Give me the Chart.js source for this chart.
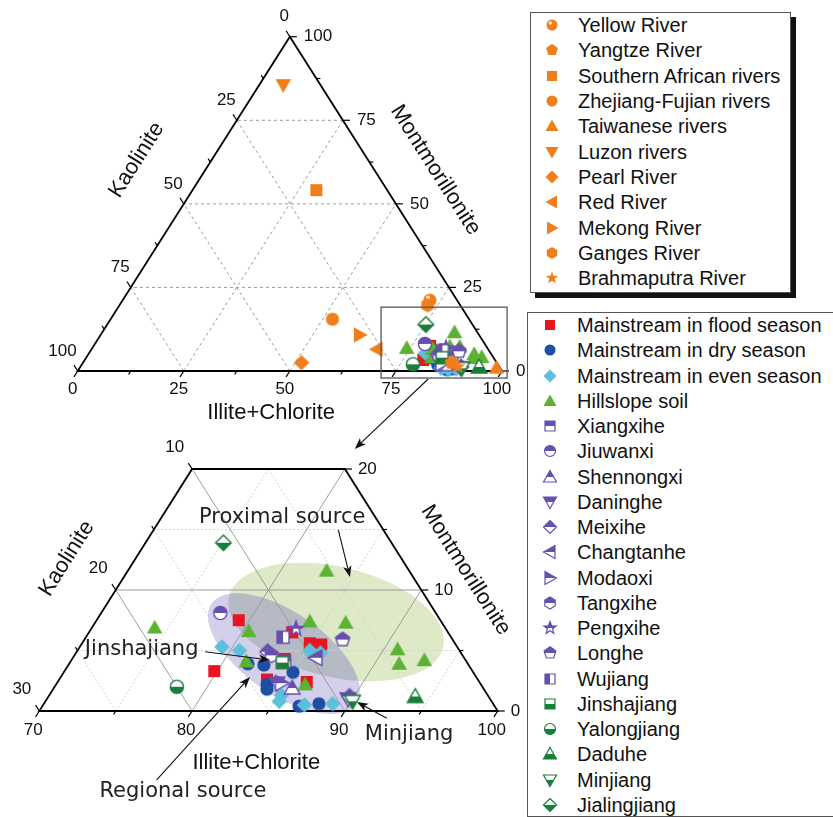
<!DOCTYPE html>
<html>
<head>
<meta charset="utf-8">
<title>Clay minerals ternary diagram</title>
<script src="https://cdn.jsdelivr.net/npm/chart.js@4.4.1/dist/chart.umd.min.js"></script>
<style>
  html, body { margin: 0; padding: 0; background: #fff; }
  body { position: relative; width: 833px; height: 817px; overflow: hidden; font-family: "Liberation Sans", Arial, sans-serif; }
  canvas.tern { position: absolute; left: 0; }
  #topChart { top: 0; z-index: 2; }
  #bottomChart { top: 430px; z-index: 1; }
  .legend { position: absolute; background: #fff; border: 1.5px solid #555; box-sizing: border-box; }
  .item { position: absolute; height: 24px; line-height: 24px; font-size: 20px; color: #111; white-space: nowrap; }
  .mark { position: absolute; }
</style>
</head>
<body>
<canvas id="bottomChart" class="tern" width="530" height="387"></canvas>
<canvas id="topChart" class="tern" width="530" height="460"></canvas>
<div id="legendTop" class="legend" style="left:530px;top:12px;width:261px;height:281px;box-shadow:5px 5px 0 #111;"></div>
<div id="legendBottom" class="legend" style="left:527px;top:312px;width:330px;height:505px;"></div>

<script>
// composition of every sample: [Illite+Chlorite, Montmorillonite, Kaolinite] in %

// big rivers (upper diagram only)
const yellowRiver = [[72.4, 21.2, 6.4]];
const yangtzeRiver = [[86.9, 2.5, 10.6]];
const southernAfrican = [[29.2, 54.1, 16.7]];
const zhejiangFujian = [[52.3, 15.5, 32.2]];
const taiwanese = [[98.2, 1.0, 0.8]];
const luzon = [[5.7, 85.5, 8.8]];
const pearlRiver = [[51.5, 2.5, 46.0]];
const redRiver = [[67.2, 6.5, 26.3]];
const mekongRiver = [[61.1, 10.8, 28.1]];
const gangesRiver = [[72.6, 19.7, 7.7]];
const brahmaputraRiver = [[89.0, 1.3, 9.7]];

// Yangtze basin samples (both diagrams)
const floodSeason = [[79.8, 3.3, 16.9], [79.3, 7.5, 13.2], [83.3, 6.5, 10.2], [84.9, 5.6, 9.5],
                     [85.7, 5.5, 8.8], [83.9, 4.3, 11.8], [86.3, 2.4, 11.3], [83.6, 2.6, 13.8]];
const drySeason = [[81.7, 3.9, 14.4], [82.8, 3.8, 13.4], [85.0, 3.2, 11.8], [83.8, 2.2, 14.0],
                   [84.0, 1.8, 14.2], [86.8, 0.4, 12.8], [88.0, 0.6, 11.4]];
const evenSeason = [[79.3, 5.3, 15.4], [80.6, 5.0, 14.4], [85.2, 5.0, 9.8], [86.0, 4.8, 9.2],
                    [85.2, 1.3, 13.5], [85.3, 0.8, 13.9], [87.1, 0.5, 12.4], [88.9, 0.6, 10.5]];
const hillslopeSoil = [[83.0, 11.6, 5.4], [74.1, 6.9, 19.0], [80.4, 6.6, 13.0], [84.0, 7.4, 8.6],
                       [86.4, 7.3, 6.3], [90.9, 5.1, 4.0], [91.6, 3.9, 4.5], [93.1, 4.2, 2.7],
                       [81.5, 4.1, 14.4], [86.3, 2.2, 11.5]];
const xiangxihe = [[84.0, 4.1, 11.9]];
const jiuwanxi = [[77.8, 8.1, 14.1]];
const shennongxi = [[85.6, 1.9, 12.5]];
const daninghe = [[84.4, 2.3, 13.3], [89.7, 1.0, 9.3]];
const meixihe = [[82.5, 4.9, 12.6], [89.7, 1.2, 9.1]];
const changtanhe = [[85.9, 4.4, 9.7]];
const modaoxi = [[84.7, 2.3, 13.0]];
const tangxihe = [[82.9, 4.6, 12.5]];
const pengxihe = [[83.4, 6.8, 9.8]];
const longhe = [[86.9, 5.9, 7.2]];
const wujiang = [[82.9, 6.1, 11.0]];
const jinshajiang = [[83.9, 4.0, 12.1]];
const yalongjiang = [[78.0, 2.0, 20.0]];
const daduhe = [[94.0, 1.2, 4.8]];
const minjiang = [[90.1, 0.8, 9.1]];
const jialingjiang = [[75.1, 13.9, 11.0]];

const ORANGE = '#f07f1b', RED = '#e8151e', NAVY = '#1d4ea2', SKY = '#5cbfdc';
const LEAF = '#5bb233', VIOLET = '#6650ae', FOREST = '#1a7e3b';

const regionalSeries = [
    { name: 'Yellow River', data: yellowRiver, shape: 'sphere', color: ORANGE, fill: 'full' },
    { name: 'Yangtze River', data: yangtzeRiver, shape: 'pentagon', color: ORANGE, fill: 'full' },
    { name: 'Southern African rivers', data: southernAfrican, shape: 'square', color: ORANGE, fill: 'full' },
    { name: 'Zhejiang-Fujian rivers', data: zhejiangFujian, shape: 'circle', color: ORANGE, fill: 'full' },
    { name: 'Taiwanese rivers', data: taiwanese, shape: 'triangle', color: ORANGE, fill: 'full' },
    { name: 'Luzon rivers', data: luzon, shape: 'triangleDown', color: ORANGE, fill: 'full' },
    { name: 'Pearl River', data: pearlRiver, shape: 'diamond', color: ORANGE, fill: 'full' },
    { name: 'Red River', data: redRiver, shape: 'triangleLeft', color: ORANGE, fill: 'full' },
    { name: 'Mekong River', data: mekongRiver, shape: 'triangleRight', color: ORANGE, fill: 'full' },
    { name: 'Ganges River', data: gangesRiver, shape: 'hexagon', color: ORANGE, fill: 'full' },
    { name: 'Brahmaputra River', data: brahmaputraRiver, shape: 'star', color: ORANGE, fill: 'full' }
];

const basinSeries = [
    { name: 'Mainstream in flood season', data: floodSeason, shape: 'square', color: RED, fill: 'full' },
    { name: 'Mainstream in dry season', data: drySeason, shape: 'circle', color: NAVY, fill: 'full' },
    { name: 'Mainstream in even season', data: evenSeason, shape: 'diamond', color: SKY, fill: 'full' },
    { name: 'Hillslope soil', data: hillslopeSoil, shape: 'triangle', color: LEAF, fill: 'full' },
    { name: 'Xiangxihe', data: xiangxihe, shape: 'square', color: VIOLET, fill: 'top' },
    { name: 'Jiuwanxi', data: jiuwanxi, shape: 'circle', color: VIOLET, fill: 'top' },
    { name: 'Shennongxi', data: shennongxi, shape: 'triangle', color: VIOLET, fill: 'top' },
    { name: 'Daninghe', data: daninghe, shape: 'triangleDown', color: VIOLET, fill: 'top' },
    { name: 'Meixihe', data: meixihe, shape: 'diamond', color: VIOLET, fill: 'top' },
    { name: 'Changtanhe', data: changtanhe, shape: 'triangleLeft', color: VIOLET, fill: 'top' },
    { name: 'Modaoxi', data: modaoxi, shape: 'triangleRight', color: VIOLET, fill: 'top' },
    { name: 'Tangxihe', data: tangxihe, shape: 'hexagon', color: VIOLET, fill: 'top' },
    { name: 'Pengxihe', data: pengxihe, shape: 'star', color: VIOLET, fill: 'top' },
    { name: 'Longhe', data: longhe, shape: 'pentagon', color: VIOLET, fill: 'top' },
    { name: 'Wujiang', data: wujiang, shape: 'square', color: VIOLET, fill: 'left' },
    { name: 'Jinshajiang', data: jinshajiang, shape: 'square', color: FOREST, fill: 'bottom' },
    { name: 'Yalongjiang', data: yalongjiang, shape: 'circle', color: FOREST, fill: 'bottom' },
    { name: 'Daduhe', data: daduhe, shape: 'triangle', color: FOREST, fill: 'bottom' },
    { name: 'Minjiang', data: minjiang, shape: 'triangleDown', color: FOREST, fill: 'bottom' },
    { name: 'Jialingjiang', data: jialingjiang, shape: 'diamond', color: FOREST, fill: 'bottom' }
];

// ternary -> cartesian (x along Illite+Chlorite, y = Montmorillonite)
function tern(I, M, K) {
    const s = I + M + K;
    return { x: (I + M / 2) * 100 / s, y: M * 100 / s };
}

// ---- markers ----
function poly(ctx, pts) {
    ctx.moveTo(pts[0][0], pts[0][1]);
    for (let i = 1; i < pts.length; i++) ctx.lineTo(pts[i][0], pts[i][1]);
}

function regular(n, r, start) {
    const pts = [];
    for (let i = 0; i < n; i++) {
        const a = (start + i * 360 / n) * Math.PI / 180;
        pts.push([r * Math.cos(a), r * Math.sin(a)]);
    }
    return pts;
}

function shapePath(ctx, shape) {
    ctx.beginPath();
    switch (shape) {
        case 'circle':
        case 'sphere': ctx.arc(0, 0, 5.5, 0, Math.PI * 2); break;
        case 'square': ctx.rect(-5, -5, 10, 10); break;
        case 'triangle': poly(ctx, [[0, -6.5], [6.5, 5], [-6.5, 5]]); break;
        case 'triangleDown': poly(ctx, [[0, 6.5], [6.5, -5], [-6.5, -5]]); break;
        case 'triangleLeft': poly(ctx, [[-6.5, 0], [5, -6.5], [5, 6.5]]); break;
        case 'triangleRight': poly(ctx, [[6.5, 0], [-5, -6.5], [-5, 6.5]]); break;
        case 'diamond': poly(ctx, [[0, -6.5], [6.5, 0], [0, 6.5], [-6.5, 0]]); break;
        case 'pentagon': poly(ctx, regular(5, 6.2, -90)); break;
        case 'hexagon': poly(ctx, regular(6, 6, -90)); break;
        case 'star': {
            const pts = [];
            for (let i = 0; i < 10; i++) {
                const r = i % 2 ? 2.7 : 6.5;
                const a = (-90 + i * 36) * Math.PI / 180;
                pts.push([r * Math.cos(a), r * Math.sin(a)]);
            }
            poly(ctx, pts);
            break;
        }
    }
    ctx.closePath();
}

function drawMarker(ctx, s) {
    if (s.fill === 'full') {
        shapePath(ctx, s.shape);
        ctx.fillStyle = s.color;
        ctx.fill();
        if (s.shape === 'sphere') {
            ctx.beginPath();
            ctx.arc(-1.6, -2, 1.7, 0, Math.PI * 2);
            ctx.fillStyle = 'rgba(255,255,255,0.85)';
            ctx.fill();
        }
        return;
    }
    shapePath(ctx, s.shape);
    ctx.fillStyle = '#fff';
    ctx.fill();
    ctx.save();
    shapePath(ctx, s.shape);
    ctx.clip();
    ctx.fillStyle = s.color;
    if (s.fill === 'top') ctx.fillRect(-8, -8, 16, 8);
    else if (s.fill === 'bottom') ctx.fillRect(-8, 0, 16, 8);
    else ctx.fillRect(-8, -8, 8, 16);
    ctx.restore();
    shapePath(ctx, s.shape);
    ctx.strokeStyle = s.color;
    ctx.lineWidth = 1.2;
    ctx.stroke();
}

function markerCanvas(s, scale) {
    const c = document.createElement('canvas');
    const size = Math.ceil(18 * scale);
    c.width = size;
    c.height = size;
    const ctx = c.getContext('2d');
    ctx.translate(size / 2, size / 2);
    ctx.scale(scale, scale);
    drawMarker(ctx, s);
    return c;
}

function toDataset(s, order) {
    return {
        label: s.name,
        data: s.data.map(p => tern(p[0], p[1], p[2])),
        pointStyle: markerCanvas(s, 1.2),
        pointRadius: 7,
        pointHoverRadius: 7,
        clip: false,
        order: order
    };
}

// ---- frame plugin (outline, grid, ticks, labels, notes) ----
function arrow(ctx, x1, y1, x2, y2, head) {
    const ang = Math.atan2(y2 - y1, x2 - x1);
    ctx.beginPath();
    ctx.moveTo(x1, y1);
    ctx.lineTo(x2 - Math.cos(ang) * head * 0.7, y2 - Math.sin(ang) * head * 0.7);
    ctx.stroke();
    ctx.beginPath();
    ctx.moveTo(x2, y2);
    ctx.lineTo(x2 - head * Math.cos(ang - 0.36), y2 - head * Math.sin(ang - 0.36));
    ctx.lineTo(x2 - head * 0.7 * Math.cos(ang), y2 - head * 0.7 * Math.sin(ang));
    ctx.lineTo(x2 - head * Math.cos(ang + 0.36), y2 - head * Math.sin(ang + 0.36));
    ctx.closePath();
    ctx.fill();
}

function segment(comp, c, lim) {
    if (comp === 'I') {
        const lo = Math.max(0, 100 - c - lim.kmax), hi = Math.min(lim.mmax, 100 - c);
        return [[c, lo, 100 - c - lo], [c, hi, 100 - c - hi]];
    }
    if (comp === 'M') {
        const hi = Math.min(lim.kmax, 100 - c - lim.imin);
        return [[100 - c, c, 0], [100 - c - hi, c, hi]];
    }
    const hi = Math.min(lim.mmax, 100 - c - lim.imin);
    return [[100 - c, 0, c], [100 - c - hi, hi, c]];
}

function framePlugin(cfg) {
    const tickFont = '17px "Liberation Sans", Arial, sans-serif';
    const titleFont = '22px "Liberation Sans", Arial, sans-serif';
    return {
        id: 'ternaryFrame',
        beforeDatasetsDraw(chart) {
            const ctx = chart.ctx, xs = chart.scales.x, ys = chart.scales.y;
            const P = (t) => { const q = tern(t[0], t[1], t[2]); return [xs.getPixelForValue(q.x), ys.getPixelForValue(q.y)]; };
            const Q = (u, v) => [xs.getPixelForValue(u), ys.getPixelForValue(v)];
            const lim = cfg.lim;
            ctx.save();

            // source areas
            if (cfg.ellipses) {
                const path = (e) => {
                    const c = Q(e.u, e.v);
                    ctx.beginPath();
                    ctx.ellipse(c[0], c[1], e.a, e.b, e.rot * Math.PI / 180, 0, Math.PI * 2);
                };
                cfg.ellipses.forEach(e => { path(e); ctx.fillStyle = e.color; ctx.fill(); });
                ctx.save();
                path(cfg.ellipses[1]);
                ctx.clip();
                path(cfg.ellipses[0]);
                ctx.fillStyle = cfg.overlap;
                ctx.fill();
                ctx.restore();
            }

            // grid
            cfg.lines.forEach(g => {
                ctx.strokeStyle = g.color;
                ctx.lineWidth = g.width || 1;
                ctx.setLineDash(g.dash || []);
                g.values.forEach(v => {
                    const s = segment(g.comp, v, lim);
                    const a = P(s[0]), b = P(s[1]);
                    ctx.beginPath();
                    ctx.moveTo(a[0], a[1]);
                    ctx.lineTo(b[0], b[1]);
                    ctx.stroke();
                });
            });
            ctx.setLineDash([]);

            // outline
            ctx.strokeStyle = '#000';
            ctx.lineWidth = 1.8;
            ctx.beginPath();
            cfg.outline.forEach((t, i) => { const p = P(t); i ? ctx.lineTo(p[0], p[1]) : ctx.moveTo(p[0], p[1]); });
            ctx.closePath();
            ctx.stroke();

            // ticks and tick labels
            const unit = (a, b) => { const dx = a[0] - b[0], dy = a[1] - b[1], l = Math.hypot(dx, dy); return [dx / l, dy / l]; };
            const dirs = {
                I: unit(P([50, 0, 50]), P([50, 10, 40])),
                K: unit(P([50, 30, 20]), P([60, 20, 20])),
                M: unit(P([80, 20, 0]), P([70, 20, 10]))
            };
            const pos = {
                I: c => P([c, 0, 100 - c]),
                K: c => P([lim.imin, 100 - lim.imin - c, c]),
                M: c => P([100 - c, c, 0])
            };
            ctx.lineWidth = 1.2;
            ctx.fillStyle = '#111';
            ctx.font = tickFont;
            ctx.textBaseline = 'middle';
            Object.keys(cfg.ticks).forEach(comp => {
                const t = cfg.ticks[comp], d = dirs[comp];
                const mark = (c, len) => {
                    const p = pos[comp](c);
                    ctx.beginPath();
                    ctx.moveTo(p[0], p[1]);
                    ctx.lineTo(p[0] + d[0] * len, p[1] + d[1] * len);
                    ctx.stroke();
                };
                t.minor.forEach(c => mark(c, 4));
                t.major.forEach(c => {
                    mark(c, 7);
                    const p = pos[comp](c);
                    ctx.textAlign = t.align;
                    ctx.fillText(String(c), p[0] + t.dx, p[1] + t.dy);
                });
            });

            // axis titles
            const leftA = P([lim.imin, 0, 100 - lim.imin]), leftB = P([lim.imin, lim.mmax, 100 - lim.imin - lim.mmax]);
            const slope = Math.atan2(leftA[1] - leftB[1], leftB[0] - leftA[0]);
            ctx.font = titleFont;
            ctx.textAlign = 'center';
            cfg.titles.forEach(tt => {
                const p = Q(tt.u, tt.v);
                const rot = tt.side === 'left' ? -slope : tt.side === 'right' ? slope : 0;
                ctx.save();
                ctx.translate(p[0], p[1]);
                ctx.rotate(rot);
                ctx.fillText(tt.text, 0, 0);
                ctx.restore();
            });
            ctx.restore();
        },
        afterDatasetsDraw(chart) {
            const ctx = chart.ctx, xs = chart.scales.x, ys = chart.scales.y;
            const Q = (u, v) => [xs.getPixelForValue(u), ys.getPixelForValue(v)];
            ctx.save();
            if (cfg.box) {
                const a = Q(cfg.box.u1, cfg.box.v1), b = Q(cfg.box.u2, cfg.box.v2);
                ctx.strokeStyle = '#555';
                ctx.lineWidth = 1.3;
                ctx.strokeRect(a[0], b[1], b[0] - a[0], a[1] - b[1]);
            }
            ctx.strokeStyle = '#111';
            ctx.fillStyle = '#111';
            ctx.lineWidth = 1.1;
            (cfg.arrows || []).forEach(ar => {
                const a = Q(ar.from[0], ar.from[1]), b = Q(ar.to[0], ar.to[1]);
                arrow(ctx, a[0], a[1], b[0], b[1], 12);
            });
            ctx.font = '21px "DejaVu Sans", Verdana, sans-serif';
            ctx.textAlign = 'center';
            ctx.textBaseline = 'middle';
            ctx.fillStyle = '#222';
            (cfg.notes || []).forEach(n => {
                const p = Q(n.u, n.v);
                ctx.fillText(n.text, p[0], p[1]);
            });
            ctx.restore();
        }
    };
}

const topFrame = {
    lim: { imin: 0, mmax: 100, kmax: 100 },
    outline: [[0, 0, 100], [100, 0, 0], [0, 100, 0]],
    lines: ['I', 'M', 'K'].map(c => ({ comp: c, values: [25, 50, 75], color: '#9a9a9a', dash: [3, 3] })),
    ticks: {
        I: { major: [0, 25, 50, 75, 100], minor: [12.5, 37.5, 62.5, 87.5], dx: -5, dy: 18, align: 'center' },
        K: { major: [0, 25, 50, 75, 100], minor: [12.5, 37.5, 62.5, 87.5], dx: -1, dy: -20, align: 'right' },
        M: { major: [0, 25, 50, 75, 100], minor: [12.5, 37.5, 62.5, 87.5], dx: 14, dy: 0, align: 'left' }
    },
    titles: [
        { text: 'Kaolinite', u: 13.9, v: 63.1, side: 'left' },
        { text: 'Montmorillonite', u: 84.3, v: 60.1, side: 'right' },
        { text: 'Illite+Chlorite', u: 45.6, v: -12.6, side: 'bottom' }
    ],
    box: { u1: 71.5, v1: -2.1, u2: 101.2, v2: 19.1 },
    arrows: [{ from: [82.6, -2.4], to: [65.3, -23.3] }]
};

const bottomFrame = {
    lim: { imin: 70, mmax: 20, kmax: 30 },
    outline: [[70, 0, 30], [100, 0, 0], [80, 20, 0], [70, 20, 10]],
    lines: [
        { comp: 'I', values: [75, 85, 95], color: '#d2d2d2', dash: [2, 2] },
        { comp: 'M', values: [5, 15], color: '#d2d2d2', dash: [2, 2] },
        { comp: 'K', values: [5, 15, 25], color: '#d2d2d2', dash: [2, 2] },
        { comp: 'I', values: [80, 90], color: '#9c9c9c' },
        { comp: 'M', values: [10], color: '#9c9c9c' },
        { comp: 'K', values: [10, 20], color: '#9c9c9c' }
    ],
    ticks: {
        I: { major: [70, 80, 90, 100], minor: [75, 85, 95], dx: -6, dy: 19, align: 'center' },
        K: { major: [10, 20, 30], minor: [15, 25], dx: -8, dy: -22, align: 'right' },
        M: { major: [0, 10, 20], minor: [5, 15], dx: 13, dy: 0, align: 'left' }
    },
    titles: [
        { text: 'Kaolinite', u: 71.8, v: 12.6, side: 'left' },
        { text: 'Montmorillonite', u: 97.9, v: 11.65, side: 'right' },
        { text: 'Illite+Chlorite', u: 84.2, v: -4.3, side: 'bottom' }
    ],
    ellipses: [
        { u: 89.42, v: 7.36, a: 110, b: 55, rot: 13.4, color: '#dde9c7' },
        { u: 86.01, v: 4.74, a: 88, b: 41, rot: 34.7, color: '#d4d0ec' }
    ],
    overlap: '#b5bac5',
    notes: [
        { text: 'Proximal source', u: 85.9, v: 15.95 },
        { text: 'Jinshajiang', u: 76.7, v: 5.04 },
        { text: 'Regional source', u: 79.4, v: -6.67 },
        { text: 'Minjiang', u: 94.2, v: -1.98 }
    ],
    arrows: [
        { from: [89.57, 14.96], to: [90.33, 11.07] },
        { from: [80.85, 4.9], to: [85.1, 4.21] },
        { from: [77.68, -5.7], to: [83.79, 2.81] },
        { from: [92.74, -0.6], to: [90.79, 0.74] }
    ]
};

function buildChart(id, datasets, frame, xr, yr, padding) {
    return new Chart(document.getElementById(id), {
        type: 'scatter',
        data: { datasets: datasets },
        options: {
            responsive: false,
            animation: false,
            events: [],
            layout: { padding: padding },
            scales: {
                x: { type: 'linear', min: xr[0], max: xr[1], display: false },
                y: { type: 'linear', min: yr[0], max: yr[1], display: false }
            },
            plugins: { legend: { display: false }, tooltip: { enabled: false } }
        },
        plugins: [framePlugin(frame)]
    });
}

const topSets = regionalSeries.map((s, i) => toDataset(s, -100 - i))
    .concat(basinSeries.map((s, i) => toDataset(s, -i)));
const bottomSets = basinSeries.map((s, i) => toDataset(s, -i));

buildChart('topChart', topSets, topFrame, [0, 100], [0, 100], { left: 77.7, right: 28, top: 36.7, bottom: 89 });
buildChart('bottomChart', bottomSets, bottomFrame, [70, 100], [0, 20], { left: 39.3, right: 32.3, top: 39, bottom: 106 });

// ---- legends ----
function addLegend(series, cy0, step, mx, tx) {
    series.forEach((s, i) => {
        const cy = cy0 + i * step;
        const c = markerCanvas(s, 1);
        c.className = 'mark';
        c.style.left = (mx - 9) + 'px';
        c.style.top = (cy - 9) + 'px';
        document.body.appendChild(c);
        const t = document.createElement('div');
        t.className = 'item';
        t.style.left = tx + 'px';
        t.style.top = (cy - 12) + 'px';
        t.textContent = s.name;
        document.body.appendChild(t);
    });
}
addLegend(regionalSeries, 25, 25.33, 552, 578);
addLegend(basinSeries, 325, 25.26, 550, 577);
</script>
</body>
</html>
